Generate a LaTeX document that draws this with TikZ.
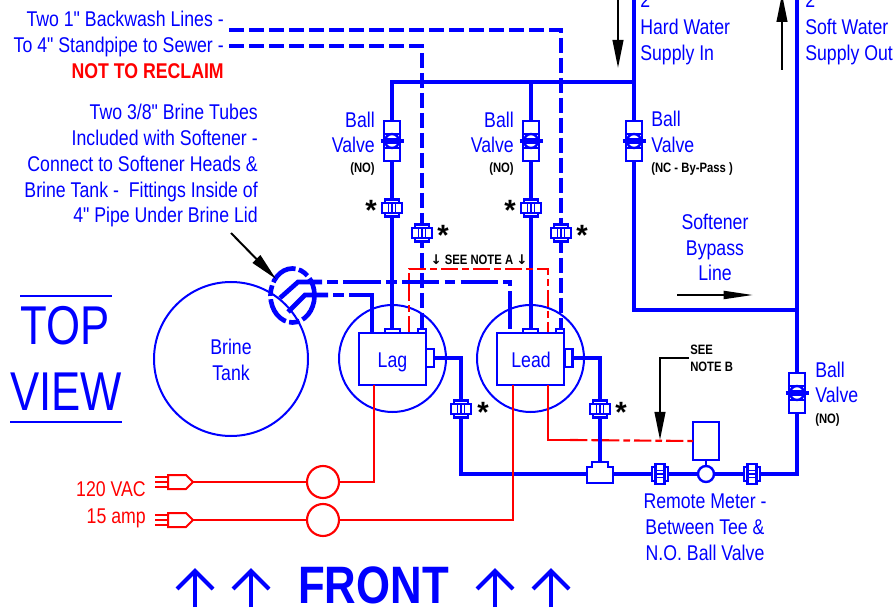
\documentclass[tikz,border=0pt]{standalone}
\usepackage{fontspec}
\setmainfont{Liberation Sans}
\newfontfamily\nar[FakeStretch=0.83]{Liberation Sans}
\newfontfamily\nartop[FakeStretch=0.8]{Liberation Sans}
\newfontfamily\djfont{DejaVu Sans}
\usetikzlibrary{arrows.meta}
\definecolor{bl}{RGB}{0,0,255}
\definecolor{rd}{RGB}{255,0,0}
\tikzset{
  pipe/.style={draw=bl,line width=2.35pt},
  dpipe/.style={draw=bl,line width=2.35pt,dash pattern=on 11pt off 4pt},
  thin blue/.style={draw=bl,line width=1.5pt},
  tube/.style={draw=bl,line width=3.5pt},
  wire/.style={draw=rd,line width=1.6pt},
  dwire/.style={draw=rd,line width=1.6pt,dash pattern=on 13pt off 3pt on 5pt off 3pt},
  lbl/.style={text=bl,font=\nar\fontsize{16}{18}\selectfont,inner sep=0pt,text height=11.5pt,text depth=0pt},
  small/.style={text=black,font=\nar\bfseries\fontsize{10.2}{12}\selectfont,inner sep=0pt,text height=7.3pt,text depth=0pt},
  star/.style={text=black,font=\bfseries\fontsize{22}{22}\selectfont,inner sep=0pt},
  bigarrow/.style={draw=black,line width=1.5pt,-{Triangle[length=21pt,width=8pt]}},
  box/.style={draw=bl,line width=1.8pt,fill=white,inner sep=0pt,outer sep=0pt},
  pics/valve/.style={code={
    \draw[draw=bl,line width=1.8pt,fill=white] (-8,-20) rectangle (8,20);
    \draw[draw=bl,line width=1.8pt] (0,0) circle[radius=7];
    \fill[bl] (-6,-3) rectangle (6,3);
    \draw[draw=bl,line width=3pt] (-11.5,0) -- (11.5,0);
    \draw[draw=bl,line width=1.5pt] (-8,-7) -- (8,-7) (-8,7) -- (8,7);
  }},
  pics/uv/.style={code={
    \draw[draw=bl,line width=1.6pt,fill=white] (-7,-8.5) rectangle (7,8.5);
    \draw[draw=bl,line width=2pt,fill=white] (-10,-5) rectangle (10,5);
    \draw[draw=bl,line width=1.1pt] (-3.5,-5) -- (-3.5,5) (0,-5) -- (0,5) (3.5,-5) -- (3.5,5);
  }},
  pics/uh/.style={code={
    \draw[draw=bl,line width=1.6pt,fill=white] (-8,-7) rectangle (8,7);
    \draw[draw=bl,line width=2pt,fill=white] (-4.5,-10) rectangle (4.5,10);
    \draw[draw=bl,line width=1.1pt] (-4.5,-3.5) -- (4.5,-3.5) (-4.5,0) -- (4.5,0) (-4.5,3.5) -- (4.5,3.5);
  }},
  pics/plug/.style={code={
    \draw[draw=rd,line width=1.5pt,fill=white] (0,-7) -- (18,-7) -- (25,0) -- (18,7) -- (0,7) -- cycle;
    \draw[draw=rd,line width=1.9pt] (-13,-5) -- (0,-5) (-13,0) -- (0,0) (-13,5) -- (0,5);
  }},
  upchev/.style={draw=bl,line width=3pt},
}
\begin{document}
\begin{tikzpicture}[x=0.75pt,y=-0.75pt]
\useasboundingbox (0,0) rectangle (896,609);
\clip (0,0) rectangle (896,609);

% named junctions
\coordinate (bwA) at (229,30);
\coordinate (bwB) at (229,46);
\coordinate (bwAc) at (561,30);
\coordinate (bwBc) at (422,46);
\coordinate (hardTop) at (634,0);
\coordinate (hardJ) at (634,82);
\coordinate (hardBot) at (634,310);
\coordinate (softTop) at (797,0);
\coordinate (softBot) at (797,474);
\coordinate (softJ) at (797,310);
\coordinate (mainL) at (392,82);
\coordinate (mainM) at (531,82);
\coordinate (lagIn) at (392,329);
\coordinate (lagOut) at (422,329);
\coordinate (leadIn) at (531,329);
\coordinate (leadOut) at (561,329);
\coordinate (lagSide) at (434,358);
\coordinate (leadSide) at (573,358);
\coordinate (lagDrop) at (461,474);
\coordinate (teeTop) at (600,462);

% tank and softener circles
\node[draw=bl,line width=1.5pt,circle,minimum size=154*0.75pt,inner sep=0pt] (tank) at (231,359) {};
\node[draw=bl,line width=1.5pt,circle,minimum size=107*0.75pt,inner sep=0pt] (lagc) at (392.5,358.5) {};
\node[draw=bl,line width=1.5pt,circle,minimum size=107*0.75pt,inner sep=0pt] (leadc) at (530.5,358.5) {};

% water pipes
\draw[pipe] (hardTop) -- (hardBot) -- (softJ);
\draw[pipe] (softTop) -- (softBot) -- (lagDrop) -- (461,358) -- (lagSide);
\draw[pipe] (leadSide) -- (600,358) -- (teeTop);
\draw[pipe] (lagIn) -- (mainL) -- (hardJ);
\draw[pipe] (mainM) -- (leadIn);
\draw[dpipe] (bwA) -- (bwAc) -- (leadOut);
\draw[dpipe] (bwB) -- (bwBc) -- (lagOut);

% red dashed note A
\draw[dwire] (409,333) -- (409,269) -- (548,269) -- (548,333);

% softener heads
\node[box,minimum width=67*0.75pt,minimum height=52*0.75pt] (lagbox) at (392.5,359) {};
\node[box,minimum width=67*0.75pt,minimum height=52*0.75pt] (leadbox) at (530.5,359) {};
\node[box,minimum width=15*0.75pt,minimum height=4*0.75pt] (lagt1) at (392.5,331) {};
\node[box,minimum width=8*0.75pt,minimum height=4*0.75pt] (lagt2) at (422,331) {};
\node[box,minimum width=15*0.75pt,minimum height=4*0.75pt] (leadt1) at (530.5,331) {};
\node[box,minimum width=8*0.75pt,minimum height=4*0.75pt] (leadt2) at (560,331) {};
\node[box,minimum width=8*0.75pt,minimum height=18*0.75pt] (lagr) at (430,358) {};
\node[box,minimum width=8*0.75pt,minimum height=18*0.75pt] (leadr) at (568.5,358) {};
\node[lbl] (lagt) at (392.5,360) {Lag};
\node[lbl] (leadt) at (531,360) {Lead};

% brine tubes
\draw[tube,dash pattern=on 21pt off 2.5pt on 8pt off 2.5pt] (292.5,295.5) ellipse[x radius=22,y radius=27];
\coordinate (t1a) at (280,298); \coordinate (t1b) at (298,282);
\coordinate (t2a) at (288,312); \coordinate (t2b) at (305,295);
\draw[tube] (t1a) -- (t1b) -- (322,282);
\draw[tube] (t2a) -- (t2b) -- (328,295);
\draw[tube,dash pattern=on 0pt off 4pt on 8pt off 4pt on 28pt off 0pt] (322,282) -- (510,282) -- (510,333);
\draw[tube,dash pattern=on 0pt off 4pt on 8pt off 4pt on 100pt off 0pt] (328,295) -- (372,295) -- (372,333);

% electric
\coordinate (lagPow) at (374,385);
\coordinate (leadPow) at (513,385);
\coordinate (leadSig) at (548,385);
\node[draw=rd,line width=1.6pt,circle,minimum size=32*0.75pt,inner sep=0pt] (sw1) at (323,482) {};
\node[draw=rd,line width=1.6pt,circle,minimum size=32*0.75pt,inner sep=0pt] (sw2) at (323,520) {};
\pic at (168,482) {plug};
\pic at (168,520) {plug};
\coordinate (p1) at (193,482);
\coordinate (p2) at (193,520);
\draw[wire] (p1) -- (sw1);
\draw[wire] (p2) -- (sw2);
\draw[wire] (sw1) -- (374,482) -- (lagPow);
\draw[wire] (sw2) -- (513,520) -- (leadPow);
\draw[wire] (leadSig) -- (548,440) -- (570,440);
\node[box,minimum width=26*0.75pt,minimum height=38*0.75pt] (meter) at (706,441) {};
\draw[dwire] (570,440) -- (meter.west);

% tee, meter
\draw[draw=bl,line width=1.8pt,fill=white] (592,462) -- (608,462) -- (608,467) -- (613,467) -- (613,483) -- (587,483) -- (587,467) -- (592,467) -- cycle;
\node[draw=bl,line width=1.8pt,circle,fill=white,minimum size=16*0.75pt,inner sep=0pt] (dial) at (706,474) {};
\draw[draw=bl,line width=1.8pt] (meter) -- (dial);
\pic at (660,474) {uh};
\pic at (752,474) {uh};

% valves and unions
\pic at (392,141) {valve};
\pic at (531,141) {valve};
\pic at (634,141) {valve};
\pic at (797,393) {valve};
\pic at (392,208) {uv};
\pic at (531,208) {uv};
\pic at (422,233) {uv};
\pic at (561,233) {uv};
\pic at (461,409) {uv};
\pic at (600,409) {uv};

\foreach \n/\a/\b in {s1/371/210,s2/510/210,s3/443/235,s4/582/235,s5/483/412,s6/621/412}
  \node[star] (\n) at (\a,\b) {*};

% black arrows
\coordinate (a1s) at (231,233); \coordinate (a1e) at (276,279);
\draw[bigarrow] (a1s) -- (a1e);
\coordinate (bs) at (689,358); \coordinate (bm) at (660,358); \coordinate (be) at (660,440);
\draw[bigarrow] (bs) -- (bm) -- (be);
\coordinate (hs) at (618,0); \coordinate (he) at (618,68);
\draw[bigarrow] (hs) -- (he);
\coordinate (ss) at (782,70); \coordinate (se) at (782,-6);
\draw[bigarrow] (ss) -- (se);
\coordinate (ps) at (677,295); \coordinate (pe) at (753,295);
\draw[draw=black,line width=1.5pt,-{Triangle[length=22pt,width=6pt]}] (ps) -- (pe);

% top-left labels
\node[lbl,anchor=east] (t1) at (224,19) {Two 1" Backwash Lines -};
\node[lbl,anchor=east] (t2) at (224,45) {To 4" Standpipe to Sewer -};
\node[lbl,anchor=east,text=rd,font=\nar\bfseries\fontsize{16}{18}\selectfont] (t3) at (224,71) {NOT TO RECLAIM};
\node[lbl,anchor=east] (b1) at (258,112) {Two 3/8" Brine Tubes};
\node[lbl,anchor=east] (b2) at (258,138) {Included with Softener -};
\node[lbl,anchor=east] (b3) at (258,164) {Connect to Softener Heads \&};
\node[lbl,anchor=east] (b4) at (258,190) {Brine Tank -\ \ Fittings Inside of};
\node[lbl,anchor=east] (b5) at (258,215) {4" Pipe Under Brine Lid};

\node[lbl,anchor=east] (v1a) at (375,120) {Ball};
\node[lbl,anchor=east] (v1b) at (375,145) {Valve};
\node[small,anchor=east] (v1c) at (375,168) {(NO)};
\node[lbl,anchor=east] (v2a) at (514,120) {Ball};
\node[lbl,anchor=east] (v2b) at (514,145) {Valve};
\node[small,anchor=east] (v2c) at (514,168) {(NO)};
\node[lbl,anchor=west] (v3a) at (651,119) {Ball};
\node[lbl,anchor=west] (v3b) at (651,145) {Valve};
\node[small,anchor=west] (v3c) at (651,168) {(NC - By-Pass )};
\node[lbl,anchor=west] (v4a) at (815,370) {Ball};
\node[lbl,anchor=west] (v4b) at (815,395) {Valve};
\node[small,anchor=west] (v4c) at (815,419) {(NO)};

\node[lbl,anchor=west] (h0) at (640,0) {2};
\node[lbl,anchor=west] (h1) at (640,27) {Hard Water};
\node[lbl,anchor=west] (h2) at (640,53) {Supply In};
\node[lbl,anchor=west] (s0) at (805,0) {2};
\node[lbl,anchor=west] (s1b) at (805,27) {Soft Water};
\node[lbl,anchor=west] (s2b) at (805,53) {Supply Out};

\node[lbl] (bp1) at (715,222) {Softener};
\node[lbl] (bp2) at (715,248) {Bypass};
\node[lbl] (bp3) at (715,273) {Line};
\node[lbl] (bt1) at (231,347) {Brine};
\node[lbl] (bt2) at (231,373) {Tank};
\node[lbl] (rm1) at (705,501) {Remote Meter -};
\node[lbl] (rm2) at (705,527) {Between Tee \&};
\node[lbl] (rm3) at (705,553) {N.O. Ball Valve};

\node[lbl,anchor=east,text=rd] (e1) at (146,489) {120 VAC};
\node[lbl,anchor=east,text=rd] (e2) at (146,516) {15 amp};

\node[small,anchor=west] (nb1) at (690,350) {SEE};
\node[small,anchor=west] (nb2) at (690,367) {NOTE B};
\node[small] (na) at (479,260) {{\djfont\fontsize{10}{12}\selectfont ↓} SEE NOTE A {\djfont\fontsize{10}{12}\selectfont ↓}};

% TOP VIEW
\node[text=bl,font=\nartop\fontsize{41}{41}\selectfont,inner sep=0pt] (top) at (65.5,326) {TOP};
\node[text=bl,font=\nartop\fontsize{41}{41}\selectfont,inner sep=0pt] (view) at (66,392) {VIEW};
\coordinate (l1a) at (20,296); \coordinate (l1b) at (112,296);
\coordinate (l2a) at (10,422); \coordinate (l2b) at (122,422);
\draw[thin blue] (l1a) -- (l1b);
\draw[thin blue] (l2a) -- (l2b);

% FRONT
\node[text=bl,font=\nar\bfseries\fontsize{39.5}{39.5}\selectfont,inner sep=0pt] (front) at (373.5,585) {FRONT};
\foreach \ax in {195,251,495,551}{
  \draw[upchev] (\ax,607) -- (\ax,571);
  \draw[upchev] (\ax-18,589) -- (\ax,571) -- (\ax+18,589);
}
\end{tikzpicture}
\end{document}
